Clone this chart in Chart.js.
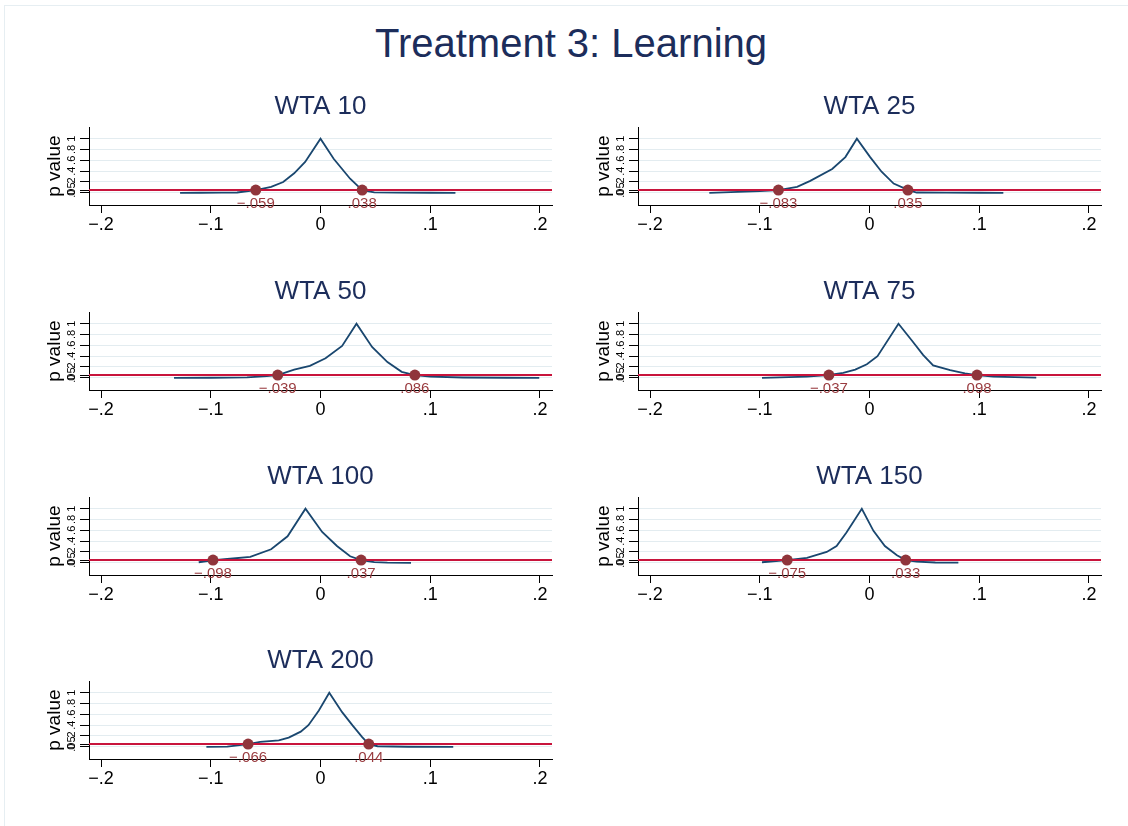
<!DOCTYPE html>
<html lang="en">
<head>
<meta charset="UTF-8">
<title>Treatment 3: Learning</title>
<script src="https://cdn.jsdelivr.net/npm/chart.js"></script>
<style>
    body { margin: 0; background: #fff; width: 1128px; height: 826px; position: relative; overflow: hidden;
           font-family: "Liberation Sans", Arial, sans-serif; }
    #frame { position: absolute; left: 4px; top: 5px; right: 0; bottom: 0;
             border-left: 1px solid #e6eef2; border-top: 1px solid #e6eef2; }
    #mainTitle { position: absolute; left: 0; top: 19px; width: 1142px; text-align: center;
                 font-size: 40px; line-height: 48px; color: #1c2d5b; }
    canvas.panel { position: absolute; }
</style>
</head>
<body>
<div id="frame"></div>
<div id="mainTitle">Treatment 3: Learning</div>

<script>
// panel titles and axis ticks
const panelTitles = ['WTA 10', 'WTA 25', 'WTA 50', 'WTA 75', 'WTA 100', 'WTA 150', 'WTA 200'];
const xTicks = [-0.2, -0.1, 0, 0.1, 0.2];
const yTicks = [0, 0.05, 0.2, 0.4, 0.6, 0.8, 1];
const alpha = 0.05;

// p value curves (effect size vs p value)
const wta10X  = [-0.128, -0.11, -0.09, -0.076, -0.059, -0.045, -0.034, -0.024, -0.014, 0, 0.012, 0.027, 0.038, 0.049, 0.07, 0.1, 0.123];
const wta10P  = [0, 0.001, 0.002, 0.005, 0.05, 0.11, 0.2, 0.36, 0.57, 1, 0.63, 0.26, 0.05, 0.006, 0.003, 0.001, 0];
const wta25X  = [-0.146, -0.12, -0.1, -0.083, -0.066, -0.054, -0.034, -0.022, -0.0115, 0.0006, 0.011, 0.022, 0.0355, 0.043, 0.07, 0.1, 0.122];
const wta25P  = [0, 0.015, 0.03, 0.05, 0.11, 0.22, 0.44, 0.66, 1, 0.66, 0.39, 0.17, 0.05, 0.005, 0.002, 0.001, 0];
const wta50X  = [-0.1335, -0.1, -0.067, -0.049, -0.039, -0.024, -0.0097, 0.0046, 0.0197, 0.0328, 0.047, 0.061, 0.074, 0.086, 0.1, 0.13, 0.17, 0.1994];
const wta50P  = [0, 0.001, 0.006, 0.03, 0.05, 0.15, 0.22, 0.36, 0.59, 1, 0.57, 0.29, 0.11, 0.05, 0.02, 0.005, 0.001, 0];
const wta75X  = [-0.098, -0.057, -0.038, -0.024, -0.013, -0.0024, 0.0073, 0.0264, 0.0386, 0.049, 0.058, 0.0735, 0.087, 0.098, 0.113, 0.152];
const wta75P  = [0, 0.02, 0.05, 0.09, 0.15, 0.25, 0.4, 1, 0.69, 0.42, 0.23, 0.14, 0.08, 0.05, 0.02, 0.003];
const wta100X = [-0.111, -0.097, -0.085, -0.064, -0.045, -0.03, -0.0137, 0.0015, 0.015, 0.027, 0.037, 0.049, 0.061, 0.0825];
const wta100P = [0.01, 0.05, 0.07, 0.11, 0.25, 0.49, 1, 0.57, 0.31, 0.12, 0.05, 0.012, 0.003, 0];
const wta150X = [-0.098, -0.075, -0.057, -0.039, -0.03, -0.021, -0.007, 0.0036, 0.014, 0.025, 0.033, 0.043, 0.06, 0.081];
const wta150P = [0.01, 0.05, 0.09, 0.2, 0.31, 0.56, 1, 0.59, 0.31, 0.14, 0.05, 0.02, 0.005, 0.002];
const wta200X = [-0.104, -0.085, -0.066, -0.055, -0.038, -0.029, -0.018, -0.011, -0.0015, 0.008, 0.0197, 0.029, 0.038, 0.044, 0.052, 0.08, 0.121];
const wta200P = [0, 0.002, 0.05, 0.09, 0.12, 0.17, 0.28, 0.4, 0.67, 1, 0.64, 0.4, 0.18, 0.05, 0.01, 0.001, 0];

// confidence bounds where p = .05
const ciLow  = [-0.059, -0.083, -0.039, -0.037, -0.098, -0.075, -0.066];
const ciHigh = [0.038, 0.035, 0.086, 0.098, 0.037, 0.033, 0.044];

const curvesX = [wta10X, wta25X, wta50X, wta75X, wta100X, wta150X, wta200X];
const curvesP = [wta10P, wta25P, wta50P, wta75P, wta100P, wta150P, wta200P];

// layout
const colLeft = [39, 588];
const rowTop = [79, 264, 449, 633];
const xMin = -0.211, xMax = 0.211;
const yMin = -0.226, yMax = 1.213;

Chart.defaults.font.family = '"Liberation Sans", Arial, Helvetica, sans-serif';

function fmt(v) {
    if (v === 0) return '0';
    if (v === 1) return '1';
    return (v < 0 ? '\u2212' : '') + String(Math.abs(v)).replace(/^0/, '');
}
function fmt3(v) {
    return (v < 0 ? '\u2212' : '') + Math.abs(v).toFixed(3).replace(/^0/, '');
}

// rotated y tick labels, like Stata
const yLabelPlugin = {
    id: 'yLabels',
    afterDraw(chart) {
        const ctx = chart.ctx, ys = chart.scales.y;
        ctx.save();
        ctx.font = '11px "Liberation Sans", Arial, sans-serif';
        ctx.fillStyle = '#000';
        ctx.textAlign = 'center';
        ctx.textBaseline = 'middle';
        ys.ticks.forEach(t => {
            const py = ys.getPixelForValue(t.value);
            ctx.save();
            ctx.translate(ys.right - 17, py);
            ctx.rotate(-Math.PI / 2);
            ctx.fillText(fmt(t.value), 0, 0);
            ctx.restore();
        });
        ctx.restore();
    }
};

// labels under the bound markers
const markerLabelPlugin = {
    id: 'markerLabels',
    afterDatasetsDraw(chart) {
        const ctx = chart.ctx;
        const meta = chart.getDatasetMeta(0);
        const pts = chart.data.datasets[0].data;
        ctx.save();
        ctx.font = '15px "Liberation Sans", Arial, sans-serif';
        ctx.fillStyle = '#9a3c40';
        ctx.textAlign = 'center';
        ctx.textBaseline = 'middle';
        meta.data.forEach((el, j) => {
            ctx.fillText(fmt3(pts[j].x), el.x, el.y + 14);
        });
        ctx.restore();
    }
};

function makePanel(i) {
    const cv = document.createElement('canvas');
    cv.className = 'panel';
    cv.width = 523;
    cv.height = 166;
    cv.style.left = colLeft[i % 2] + 'px';
    cv.style.top = rowTop[Math.floor(i / 2)] + 'px';
    document.body.appendChild(cv);

    const curve = curvesX[i].map((x, j) => ({ x: x, y: curvesP[i][j] }));
    const markers = [{ x: ciLow[i], y: alpha }, { x: ciHigh[i], y: alpha }];
    const refLine = [{ x: xMin, y: alpha }, { x: xMax, y: alpha }];

    new Chart(cv, {
        type: 'scatter',
        data: {
            datasets: [
                { data: markers, pointRadius: 5.5, pointBackgroundColor: '#90353b', pointBorderWidth: 0, showLine: false },
                { data: refLine, showLine: true, borderColor: '#c8143c', borderWidth: 2, pointRadius: 0 },
                { data: curve, showLine: true, borderColor: '#1a476f', borderWidth: 1.8, pointRadius: 0, tension: 0 }
            ]
        },
        options: {
            responsive: false,
            animation: false,
            devicePixelRatio: 1,
            layout: { padding: { left: 0, right: 10, top: 0, bottom: 0 } },
            plugins: {
                legend: { display: false },
                tooltip: { enabled: false },
                title: {
                    display: true,
                    text: panelTitles[i],
                    fullSize: false,
                    color: '#1c2d5b',
                    font: { size: 26, weight: 'normal' },
                    padding: { top: 12, bottom: 5 }
                }
            },
            scales: {
                x: {
                    type: 'linear',
                    min: xMin,
                    max: xMax,
                    afterBuildTicks: s => { s.ticks = xTicks.map(v => ({ value: v })); },
                    afterFit: s => { s.height = 40; },
                    ticks: { callback: v => fmt(v), color: '#000', font: { size: 18 }, padding: 1, maxRotation: 0, autoSkip: false },
                    grid: { drawOnChartArea: false, drawTicks: true, tickLength: 8, tickColor: '#000' },
                    border: { color: '#000', width: 1 }
                },
                y: {
                    type: 'linear',
                    min: yMin,
                    max: yMax,
                    afterBuildTicks: s => { s.ticks = yTicks.map(v => ({ value: v })); },
                    afterFit: s => { s.width = 50; },
                    ticks: { display: false },
                    grid: { color: '#e3ecf0', lineWidth: 1, tickLength: 9, tickColor: '#000' },
                    border: { color: '#000', width: 1 },
                    title: { display: true, text: 'p value', color: '#000', font: { size: 19 }, padding: { top: 4, bottom: 0 } }
                }
            }
        },
        plugins: [yLabelPlugin, markerLabelPlugin]
    });
}

panelTitles.forEach((t, i) => makePanel(i));
</script>
</body>
</html>
